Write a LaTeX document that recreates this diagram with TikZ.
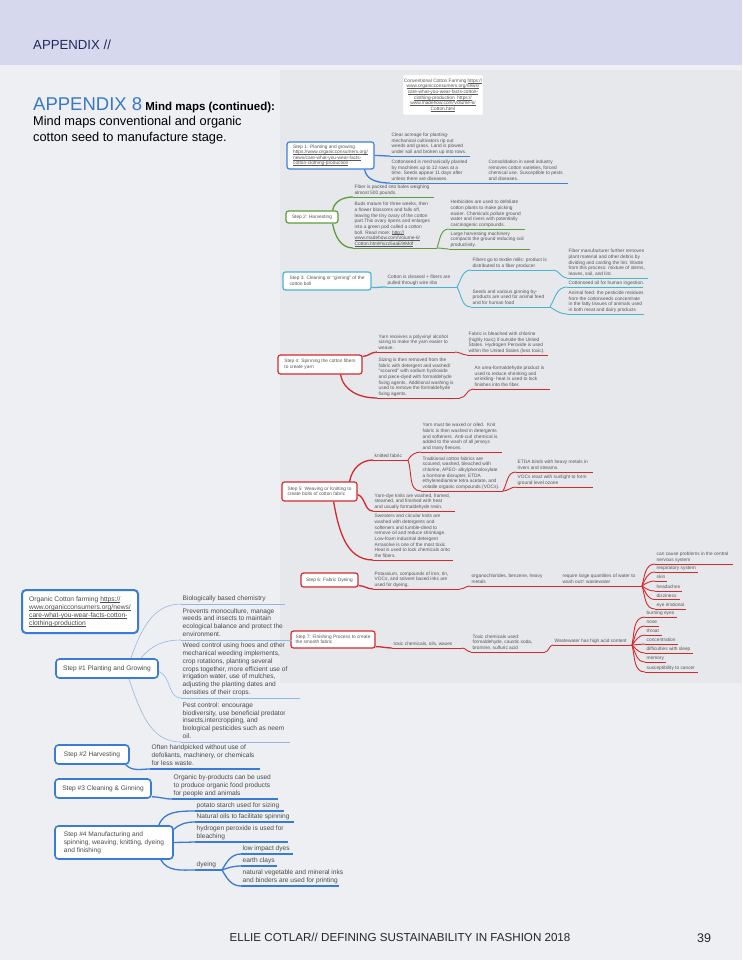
\documentclass[tikz,border=0pt]{standalone}
\usepackage{fontspec}
\setmainfont{Liberation Sans}
\usetikzlibrary{calc}
\definecolor{pagebg}{HTML}{EDEFF2}
\definecolor{hdrbg}{HTML}{D6D9EE}
\definecolor{mapbg}{HTML}{E6E8EB}
\definecolor{hdrtxt}{HTML}{22295A}
\definecolor{ttlblue}{HTML}{3A78C2}
\definecolor{tgray}{HTML}{555555}
\definecolor{ogray}{HTML}{4A4A4A}
\definecolor{cblue}{HTML}{3D7FD9}
\definecolor{cgreen}{HTML}{5E9C3B}
\definecolor{ccyan}{HTML}{4AB3CF}
\definecolor{cred}{HTML}{D22A30}
\definecolor{oblue}{HTML}{3A7BD5}
\definecolor{olight}{HTML}{93B8E3}
\newsavebox\ulbox
\newcommand\ulk[1]{\sbox\ulbox{#1}\rlap{\rule[-0.14em]{\wd\ulbox}{0.06em}}\usebox\ulbox}
\begin{document}
\begin{tikzpicture}[x=1pt,y=-1pt,
  ct/.style={anchor=south west, inner xsep=1.5pt, inner ysep=1.3pt, font=\fontsize{4.8}{5.7}\selectfont, align=left, text=tgray, execute at end node={\vphantom{gy}}},
  ot/.style={anchor=south west, inner xsep=1.5pt, inner ysep=2pt, font=\fontsize{6.6}{7.8}\selectfont, align=left, text=ogray, execute at end node={\vphantom{gy}}},
  sbox/.style={draw=#1, line width=1.2pt, rounded corners=2.5pt, fill=white, font=\fontsize{4.8}{5.5}\selectfont, align=left, text=tgray, inner sep=0pt},
  obox/.style={draw=oblue, line width=1.6pt, rounded corners=3.5pt, fill=white, font=\fontsize{6.6}{7.9}\selectfont, align=left, text=ogray, inner sep=0pt},
  lnb/.style={draw=cblue, line width=0.9pt},
  lng/.style={draw=cgreen, line width=0.9pt},
  lnc/.style={draw=ccyan, line width=0.9pt},
  lnr/.style={draw=cred, line width=0.9pt},
  lno/.style={draw=oblue, line width=1.3pt},
  lnl/.style={draw=olight, line width=0.6pt},
  thk/.style={line width=1.3pt}
]
\useasboundingbox (0,0) rectangle (742,960);
\fill[pagebg] (0,0) rectangle (742,960);
\fill[hdrbg] (0,0) rectangle (742,65);
\fill[mapbg] (280,70) rectangle (742,683);

% header, title, footer
\node[anchor=base west, inner sep=0pt, font=\fontsize{13.2}{15}\selectfont, text=hdrtxt] (hd) at (33,50) {APPENDIX //};
\node[anchor=base west, inner sep=0pt, font=\fontsize{11.5}{14}\selectfont\bfseries] (ttl) at (33,111) {{\fontsize{18.5}{20}\selectfont\mdseries\color{ttlblue}APPENDIX 8} Mind maps (continued):};
\node[anchor=base west, inner sep=0pt, font=\fontsize{12.8}{15}\selectfont] (sub1) at (33,126) {Mind maps conventional and organic};
\node[anchor=base west, inner sep=0pt, font=\fontsize{12.8}{15}\selectfont] (sub2) at (33,142) {cotton seed to manufacture stage.};
\node[anchor=base, inner sep=0pt, font=\fontsize{11.6}{13}\selectfont, text=black!85] (ft) at (400,941.5) {ELLIE COTLAR// DEFINING SUSTAINABILITY IN FASHION 2018};
\node[anchor=base west, inner sep=0pt, font=\fontsize{12.5}{14}\selectfont, text=black!85] (pg) at (697,942) {39};

% ================= conventional map =================
\node[fill=white, draw=black!12, line width=0.3pt, rounded corners=1pt, minimum width=80pt, minimum height=40pt, inner sep=0pt, align=center, font=\fontsize{4.8}{5.7}\selectfont, text=tgray] (root) at (443,95)
 {Conventional Cotton Farming \ulk{https://}\\\ulk{www.organicconsumers.org/news/}\\\ulk{care-what-you-wear-facts-cotton-}\\\ulk{clothing-production}\ \ \ulk{https://}\\\ulk{www.madehow.com/Volume-6/}\\\ulk{Cotton.html}};

% Step 1
\node[sbox=cblue, minimum width=87pt, minimum height=27pt] (s1) at (330.5,155.5)
 {Step 1: Planting and growing\\\ulk{https://www.organicconsumers.org/}\\\ulk{news/care-what-you-wear-facts-}\\\ulk{cotton-clothing-production}};
\node[ct] (a1) at (390,156) {Clear acreage for planting-\\mechanical cultivators rip out\\weeds and grass. Land is plowed\\under soil and broken up into rows.};
\draw[lnb] (a1.south west) -- ++(80,0) coordinate (a1e);
\node[ct] (a2) at (390,183) {Cottonseed is mechanically planted\\by machines up to 12 rows at a\\time. Seeds appear 11 days after\\unless there are diseases.};
\draw[lnb] (a2.south west) -- ++(90,0) coordinate (a2e);
\node[ct] (a3) at (487,183) {Consolidation in seed industry\\removes cotton varieties, forced\\chemical use. Susceptible to pests\\and diseases.};
\draw[lnb] (a3.south west) -- ++(81,0) coordinate (a3e);
\draw[lnb,thk] (s1.east) to[out=0,in=180] (a1.south west);
\draw[lnb,thk] ([xshift=-10pt]s1.south east) to[out=-80,in=180] (a2.south west);
\draw[lnb] (a2e) -- (a3.south west);

% Step 2
\node[sbox=cgreen, minimum width=52pt, minimum height=12pt] (s2) at (312,217) {Step 2: Harvesting};
\node[ct] (b1) at (353,197) {Fiber is packed into bales weighing\\almost 500 pounds.};
\draw[lng] (b1.south west) -- ++(81,0) coordinate (b1e);
\node[ct] (b2) at (353,248) {Buds mature for three weeks, then\\a flower blossoms and falls off,\\leaving the tiny ovary of the cotton\\part.This ovary ripens and enlarges\\into a green pod called a cotton\\boll. Read more: \ulk{http://}\\\ulk{www.madehow.com/Volume-6/}\\\ulk{Cotton.html\#ixzz5aaE9tMdf}};
\draw[lng] (b2.south west) -- ++(84,0) coordinate (b2e);
\node[ct] (b3) at (449,229) {Herbicides are used to defoliate\\cotton plants to make picking\\easier. Chemicals pollute ground\\water and rivers with potentially\\carcinogenic compounds.};
\draw[lng] (b3.south west) -- ++(76,0) coordinate (b3e);
\node[ct] (b4) at (449,249) {Large harvesting machinery\\compacts the ground reducing soil\\productivity.};
\draw[lng] (b4.south west) -- ++(81,0) coordinate (b4e);
\draw[lng,thk] ([xshift=-6pt]s2.north east) to[out=80,in=180] (b1.south west);
\draw[lng,thk] ([xshift=-6pt]s2.south east) to[out=-80,in=180] (b2.south west);
\draw[lng] (b2e) to[out=70,in=180] (b3.south west);
\draw[lng] (b2e) to[out=0,in=180] (b4.south west);

% Step 3
\node[sbox=ccyan, minimum width=88pt, minimum height=18pt] (s3) at (327,281) {Step 3: Cleaning or “ginning” of the\\cotton boll};
\node[ct] (c1) at (386,287) {Cotton is cleaned + fibers are\\pulled through wire ribs};
\draw[lnc] (c1.south west) -- ++(71,0) coordinate (c1e);
\node[ct] (c2) at (471,270) {Fibers go to textile mills: product is\\distributed to a fiber producer};
\draw[lnc] (c2.south west) -- ++(82,0) coordinate (c2e);
\node[ct] (c3) at (567,278) {Fiber manufacturer further removes\\plant material and other debris by\\dividing and carding the lint. Waste\\from this process: mixture of stems,\\leaves, soil, and lint.};
\draw[lnc] (c3.south west) -- ++(81,0) coordinate (c3e);
\node[ct] (c4) at (471,307) {Seeds and various ginning by-\\products are used for animal feed\\and for human food};
\draw[lnc] (c4.south west) -- ++(79,0) coordinate (c4e);
\node[ct] (c5) at (567,287) {Cottonseed oil for human ingestion.};
\draw[lnc] (c5.south west) -- ++(76,0) coordinate (c5e);
\node[ct] (c6) at (567,314) {Animal feed: the pesticide residues\\from the cottonseeds concentrate\\in the fatty tissues of animals used\\in both meat and dairy products};
\draw[lnc] (c6.south west) -- ++(77,0) coordinate (c6e);
\draw[lnc,thk] ([yshift=3pt]s3.south east) to[out=0,in=180] (c1.south west);
\draw[lnc] (c1e) to[out=60,in=180] (c2.south west);
\draw[lnc] (c1e) to[out=-60,in=180] (c4.south west);
\draw[lnc] (c2e) to[out=0,in=180] (c3.south west);
\draw[lnc] (c4e) to[out=60,in=180] (c5.south west);
\draw[lnc] (c4e) to[out=-30,in=180] (c6.south west);

% Step 4
\node[sbox=cred, minimum width=84pt, minimum height=19pt] (s4) at (320,364.5) {Step 4: Spinning the cotton fibers\\to create yarn};
\node[ct] (d1) at (377,352) {Yarn receives a polyvinyl alcohol\\sizing to make the yarn easier to\\weave.};
\draw[lnr] (d1.south west) -- ++(78,0) coordinate (d1e);
\node[ct] (d2) at (467,355) {Fabric is bleached with chlorine\\(highly toxic) if outside the United\\States. Hydrogen Peroxide is used\\within the United States (less toxic).};
\draw[lnr] (d2.south west) -- ++(81,0) coordinate (d2e);
\node[ct] (d3) at (377,398) {Sizing is then removed from the\\fabric with detergent and washed/\\“scoured” with sodium hydroxide\\and piece-dyed with formaldehyde\\fixing agents. Additional washing is\\used to remove the formaldehyde\\fixing agents.};
\draw[lnr] (d3.south west) -- ++(83,0) coordinate (d3e);
\node[ct] (d4) at (473,389) {An urea-formaldehyde product is\\used to reduce shrinking and\\wrinkling- heat is used to lock\\finishes into the fiber.};
\draw[lnr] (d4.south west) -- ++(77,0) coordinate (d4e);
\draw[lnr,thk] ([yshift=-2pt]s4.north east) to[out=0,in=180] (d1.south west);
\draw[lnr,thk] ([xshift=-22pt]s4.south east) to[out=-80,in=180] (d3.south west);
\draw[lnr] (d1e) to[out=0,in=180] (d2.south west);
\draw[lnr] (d3e) to[out=0,in=180] (d4.south west);

% Step 5
\node[sbox=cred, minimum width=75pt, minimum height=19pt] (s5) at (319.5,491.5) {Step 5: Weaving or Knitting to\\create bolts of cotton fabric};
\node[ct] (e1) at (373,460) {knitted fabric};
\draw[lnr] (e1.south west) -- ++(35,0) coordinate (e1e);
\node[ct] (e2) at (421,452) {Yarn must be waxed or oiled.\ \ Knit\\fabric is then washed in detergents\\and softeners. Anti-curl chemical is\\added to the wash of all jerseys\\and many fleeces.};
\draw[lnr] (e2.south west) -- ++(81,0) coordinate (e2e);
\node[ct] (e3) at (421,491) {Traditional cotton fabrics are\\scoured, washed, bleached with\\chlorine, APEO- alkylphenoloxylate\\a hormone disrupter, ETDA\\ethylenediamine tetra acetate, and\\volatile organic compounds (VOCs).};
\draw[lnr] (e3.south west) -- ++(82,0) coordinate (e3e);
\node[ct] (e4) at (516,472) {ETDA binds with heavy metals in\\rivers and streams.};
\draw[lnr] (e4.south west) -- ++(77,0) coordinate (e4e);
\node[ct] (e5) at (516,487) {VOCs react with sunlight to form\\ground level ozone};
\draw[lnr] (e5.south west) -- ++(77,0) coordinate (e5e);
\node[ct] (e6) at (373,511) {Yarn-dye knits are washed, framed,\\steamed, and finished with heat\\and usually formaldehyde resin.};
\draw[lnr] (e6.south west) -- ++(82,0) coordinate (e6e);
\node[ct] (e7) at (373,560) {Sweaters and circular knits are\\washed with detergents and\\softeners and tumble-dried to\\remove oil and reduce shrinkage.\\Low-foam industrial detergent\\Arrasolve is one of the most toxic.\\Heat is used to lock chemicals onto\\the fibers.};
\draw[lnr] (e7.south west) -- ++(80,0) coordinate (e7e);
\draw[lnr,thk] ([xshift=-8pt]s5.north east) to[out=80,in=180] (e1.south west);
\draw[lnr,thk] ([yshift=-3pt]s5.east) to[out=-20,in=180] (e6.south west);
\draw[lnr,thk] ([xshift=-24pt]s5.south east) to[out=-80,in=180] (e7.south west);
\draw[lnr] (e1e) to[out=60,in=180] (e2.south west);
\draw[lnr] (e1e) to[out=-70,in=180] (e3.south west);
\draw[lnr] (e3e) to[out=60,in=180] (e4.south west);
\draw[lnr] (e3e) to[out=0,in=180] (e5.south west);

% Step 6
\node[sbox=cred, minimum width=57pt, minimum height=14pt] (s6) at (329.5,580) {Step 6: Fabric Dyeing};
\node[ct] (f1) at (373,589) {Potassium, compounds of iron, tin,\\VOCs, and solvent based inks are\\used for dyeing.};
\draw[lnr] (f1.south west) -- ++(87,0) coordinate (f1e);
\node[ct] (f2) at (470,586) {organochlorides, benzene, heavy\\metals};
\draw[lnr] (f2.south west) -- ++(75,0) coordinate (f2e);
\node[ct] (f3) at (561,586) {require large quantities of water to\\wash out= wastewater};
\draw[lnr] (f3.south west) -- ++(81,0) coordinate (f3e);
\node[ct] (f4) at (655,564) {can cause problems in the central\\nervous system};
\draw[lnr] (f4.south west) -- ++(78,0);
\node[ct] (f5) at (655,572) {respiratory system};
\draw[lnr] (f5.south west) -- ++(43,0);
\node[ct] (f6) at (655,581) {skin};
\draw[lnr] (f6.south west) -- ++(12,0);
\node[ct] (f7) at (655,591) {headaches};
\draw[lnr] (f7.south west) -- ++(27,0);
\node[ct] (f8) at (655,599.5) {dizziness};
\draw[lnr] (f8.south west) -- ++(25,0);
\node[ct] (f9) at (655,609) {eye irrational};
\draw[lnr] (f9.south west) -- ++(31,0);
\draw[lnr,thk] ([yshift=2pt]s6.south east) to[out=0,in=180] (f1.south west);
\draw[lnr] (f1e) to[out=0,in=180] (f2.south west);
\draw[lnr] (f2e) -- (f3.south west);
\draw[lnr] (f3e) to[out=75,in=180] (f4.south west);
\draw[lnr] (f3e) to[out=65,in=180] (f5.south west);
\draw[lnr] (f3e) to[out=35,in=180] (f6.south west);
\draw[lnr] (f3e) to[out=-35,in=180] (f7.south west);
\draw[lnr] (f3e) to[out=-60,in=180] (f8.south west);
\draw[lnr] (f3e) to[out=-72,in=180] (f9.south west);

% Step 7
\node[sbox=cred, minimum width=84pt, minimum height=17pt] (s7) at (333,639.5) {Step 7: Finishing Process to create\\the smooth fabric};
\node[ct] (g1) at (392,648) {toxic chemicals, oils, waxes};
\draw[lnr] (g1.south west) -- ++(70,0) coordinate (g1e);
\node[ct] (g2) at (471,652) {Toxic chemicals used:\\formaldehyde, caustic soda,\\bromine, sulfuric acid};
\draw[lnr] (g2.south west) -- ++(74,0) coordinate (g2e);
\node[ct] (g3) at (553,645) {Wastewater has high acid content};
\draw[lnr] (g3.south west) -- ++(79,0) coordinate (g3e);
\node[ct] (g4) at (645,617) {burning eyes};
\draw[lnr] (g4.south west) -- ++(32,0);
\node[ct] (g5) at (645,626) {nose};
\draw[lnr] (g5.south west) -- ++(14,0);
\node[ct] (g6) at (645,635) {throat};
\draw[lnr] (g6.south west) -- ++(17,0);
\node[ct] (g7) at (645,644) {concentration};
\draw[lnr] (g7.south west) -- ++(33,0);
\node[ct] (g8) at (645,653) {difficulties with sleep};
\draw[lnr] (g8.south west) -- ++(48,0);
\node[ct] (g9) at (645,662) {memory};
\draw[lnr] (g9.south west) -- ++(21,0);
\node[ct] (g10) at (645,672) {susceptibility to cancer};
\draw[lnr] (g10.south west) -- ++(53,0);
\draw[lnr,thk] ([yshift=2pt]s7.south east) to[out=0,in=180] (g1.south west);
\draw[lnr] (g1e) to[out=0,in=180] (g2.south west);
\draw[lnr] (g2e) to[out=0,in=180] (g3.south west);
\draw[lnr] (g3e) to[out=78,in=180] (g4.south west);
\draw[lnr] (g3e) to[out=68,in=180] (g5.south west);
\draw[lnr] (g3e) to[out=50,in=180] (g6.south west);
\draw[lnr] (g3e) -- (g7.south west);
\draw[lnr] (g3e) to[out=-45,in=180] (g8.south west);
\draw[lnr] (g3e) to[out=-65,in=180] (g9.south west);
\draw[lnr] (g3e) to[out=-75,in=180] (g10.south west);

% ================= organic map =================
\node[obox, line width=2pt, rounded corners=4pt, minimum width=116pt, minimum height=43pt, font=\fontsize{6.7}{8.1}\selectfont] (r0) at (80,611.5)
 {Organic Cotton farming \ulk{https://}\\\ulk{www.organicconsumers.org/news/}\\\ulk{care-what-you-wear-facts-cotton-}\\\ulk{clothing-production}};

\node[obox, minimum width=102pt, minimum height=19pt] (o1) at (107,668.5) {Step \#1 Planting and Growing};
\node[ot] (h1) at (181,604) {Biologically based chemistry};
\draw[lnl] (h1.south west) -- ++(104,0);
\node[ot] (h2) at (181,640) {Prevents monoculture, manage\\weeds and insects to maintain\\ecological balance and protect the\\environment.};
\draw[lnl] (h2.south west) -- ++(111,0);
\node[ot] (h3) at (181,698) {Weed control using hoes and other\\mechanical weeding implements,\\crop rotations, planting several\\crops together, more efficient use of\\irrigation water, use of mulches,\\adjusting the planting dates and\\densities of their crops.};
\draw[lnl] (h3.south west) -- ++(119,0);
\node[ot] (h4) at (181,742) {Pest control: encourage\\biodiversity, use beneficial predator\\insects,intercropping, and\\biological pesticides such as neem\\oil.};
\draw[lnl] (h4.south west) -- ++(109,0);
\draw[lnl] ([xshift=-28pt]o1.north east) to[out=70,in=180] (h1.south west);
\draw[lnl] ([xshift=-18pt]o1.north east) to[out=50,in=180] (h2.south west);
\draw[lnl] ([yshift=-3pt]o1.east) to[out=-20,in=180] (h3.south west);
\draw[lnl] ([xshift=-30pt]o1.south east) to[out=-70,in=180] (h4.south west);

\node[obox, minimum width=74pt, minimum height=19pt] (o2) at (92,754.5) {Step \#2 Harvesting};
\node[ot] (i1) at (150,769) {Often handpicked without use of\\defoliants, machinery, or chemicals\\for less waste.};
\draw[lno] (i1.south west) -- ++(110,0);
\draw[lno] ([xshift=-4pt]o2.south east) to[out=-45,in=180] (i1.south west);

\node[obox, minimum width=96pt, minimum height=19pt] (o3) at (103,788.5) {Step \#3 Cleaning \& Ginning};
\node[ot] (i2) at (172,799) {Organic by-products can be used\\to produce organic food products\\for people and animals};
\draw[lno] (i2.south west) -- ++(106,0);
\draw[lno] ([yshift=2pt]o3.south east) to[out=0,in=180] (i2.south west);

\node[obox, minimum width=118pt, minimum height=33pt] (o4) at (114,842.5) {Step \#4 Manufacturing and\\spinning, weaving, knitting, dyeing\\and finishing};
\node[ot] (k1) at (195,811) {potato starch used for sizing};
\draw[lno] (k1.south west) -- ++(89,0);
\node[ot] (k2) at (195,822) {Natural oils to facilitate spinning};
\draw[lno] (k2.south west) -- ++(99,0);
\node[ot] (k3) at (195,842) {hydrogen peroxide is used for\\bleaching};
\draw[lno] (k3.south west) -- ++(93,0);
\node[ot] (k4) at (195,870) {dyeing};
\draw[lno] (k4.south west) -- ++(27,0) coordinate (k4e);
\node[ot] (k5) at (241,854) {low impact dyes};
\draw[lno] (k5.south west) -- ++(52,0);
\node[ot] (k6) at (241,866) {earth clays};
\draw[lno] (k6.south west) -- ++(36,0);
\node[ot] (k7) at (241,886) {natural vegetable and mineral inks\\and binders are used for printing};
\draw[lno] (k7.south west) -- ++(98,0);
\draw[lno] ([xshift=-15pt]o4.north east) to[out=70,in=180] (k1.south west);
\draw[lno] ([yshift=-4pt]o4.north east) to[out=40,in=180] (k2.south west);
\draw[lno] (o4.east) -- (k3.south west);
\draw[lno] ([xshift=-13pt]o4.south east) to[out=-60,in=180] (k4.south west);
\draw[lno] (k4e) to[out=60,in=180] (k5.south west);
\draw[lno] (k4e) to[out=20,in=180] (k6.south west);
\draw[lno] (k4e) to[out=-60,in=180] (k7.south west);
\end{tikzpicture}
\end{document}
